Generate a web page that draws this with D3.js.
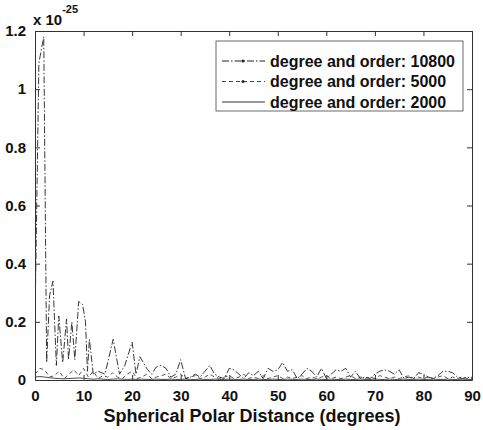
<!DOCTYPE html>
<html>
<head>
<meta charset="utf-8">
<script src="https://cdn.jsdelivr.net/npm/d3@7"></script>
<style>
  body { margin: 0; background: #fff; }
  text { font-family: "Liberation Sans", Arial, sans-serif; font-weight: bold; fill: #111; }
</style>
</head>
<body>
<div id="chart"></div>
<script>
// spherical polar distance (degrees) for each series
var deg10800 = [0, 0.8, 1.8, 2.4, 3.0, 3.7, 4.4, 4.9, 5.7, 6.5, 6.9, 7.6, 8.2, 9.0, 9.8, 10.4, 10.8, 11.2,
                12.0, 13.0, 14.4, 16.1, 17.4, 18.5, 20.0, 20.8, 21.6, 23.0].concat(d3.range(24, 91));
var degSample = d3.range(0, 91);

// values (x 1e-25)
var val10800 = [0.20, 1.09, 1.18, 0.06, 0.29, 0.34, 0.05, 0.22, 0.06, 0.21, 0.07, 0.20, 0.07, 0.27, 0.26, 0.20, 0.03, 0.14,
                0.02, 0.03, 0.02, 0.14, 0.02, 0.05, 0.13, 0.02, 0.08, 0.04,
                0.020, 0.045, 0.050, 0.040, 0.010, 0.020, 0.070, 0.005, 0.010, 0.020,
                0.010, 0.030, 0.050, 0.020, 0.010, 0.005, 0.040, 0.035, 0.020, 0.005,
                0.025, 0.015, 0.030, 0.005, 0.040, 0.030, 0.035, 0.060, 0.030, 0.035,
                0.005, 0.020, 0.040, 0.030, 0.010, 0.040, 0.005, 0.020, 0.035, 0.030,
                0.040, 0.010, 0.030, 0.005, 0.010, 0.005, 0.020, 0.030, 0.035, 0.030,
                0.020, 0.035, 0.005, 0.010, 0.005, 0.025, 0.020, 0.010, 0.005, 0.015,
                0.030, 0.030, 0.025, 0.010, 0.005, 0.010, 0.005];
var val5000 = [0.020, 0.040, 0.035, 0.010, 0.015, 0.030, 0.005, 0.020, 0.035, 0.015,
               0.040, 0.010, 0.030, 0.005, 0.015, 0.010, 0.025, 0.010, 0.005, 0.020,
               0.030, 0.005, 0.010, 0.020, 0.005, 0.010, 0.015, 0.020, 0.005, 0.010,
               0.020, 0.005, 0.010, 0.015, 0.005, 0.010, 0.020, 0.010, 0.005, 0.010,
               0.015, 0.005, 0.010, 0.020, 0.005, 0.010, 0.005, 0.015, 0.005, 0.010,
               0.015, 0.005, 0.010, 0.005, 0.010, 0.015, 0.005, 0.010, 0.005, 0.010,
               0.015, 0.005, 0.010, 0.005, 0.010, 0.015, 0.005, 0.010, 0.005, 0.010,
               0.005, 0.015, 0.010, 0.005, 0.010, 0.005, 0.010, 0.015, 0.005, 0.010,
               0.005, 0.010, 0.005, 0.010, 0.015, 0.005, 0.010, 0.005, 0.010, 0.005,
               0.010];
var val2000 = [0.010, 0.012, 0.010, 0.008, 0.006, 0.005, 0.004, 0.005, 0.006, 0.007,
               0.006, 0.004, 0.003, 0.004, 0.003, 0.002, 0.003, 0.004, 0.003, 0.002,
               0.003, 0.002, 0.003, 0.002, 0.002, 0.003, 0.002, 0.002, 0.003, 0.002,
               0.002, 0.003, 0.002, 0.002, 0.003, 0.002, 0.002, 0.003, 0.002, 0.002,
               0.003, 0.002, 0.002, 0.003, 0.002, 0.002, 0.003, 0.002, 0.002, 0.003,
               0.002, 0.002, 0.003, 0.002, 0.002, 0.003, 0.002, 0.002, 0.003, 0.002,
               0.002, 0.003, 0.002, 0.002, 0.003, 0.002, 0.002, 0.003, 0.002, 0.002,
               0.003, 0.002, 0.002, 0.003, 0.002, 0.002, 0.003, 0.002, 0.002, 0.003,
               0.002, 0.002, 0.003, 0.002, 0.002, 0.003, 0.002, 0.002, 0.003, 0.002,
               0.002];

var labels = ["degree and order: 10800", "degree and order: 5000", "degree and order: 2000"];
var xTicks = [0, 10, 20, 30, 40, 50, 60, 70, 80, 90];
var yTicks = [0, 0.2, 0.4, 0.6, 0.8, 1, 1.2];

var width = 483, height = 430;
var margin = {left: 35, right: 11, top: 31, bottom: 50};

var svg = d3.select("#chart").append("svg")
    .attr("width", width)
    .attr("height", height);

var x = d3.scaleLinear().domain([0, 90]).range([margin.left, width - margin.right]);
var y = d3.scaleLinear().domain([0, 1.2]).range([height - margin.bottom, margin.top]);

svg.append("clipPath").attr("id", "plotclip")
    .append("rect")
    .attr("x", x(0)).attr("y", y(1.2))
    .attr("width", x(90) - x(0)).attr("height", y(0) - y(1.2));

var series = [
    {xs: deg10800, ys: val10800, color: "#222", dash: "7,2,1.5,2", width: 0.9},
    {xs: degSample, ys: val5000, color: "#444", dash: "4,3", width: 0.9},
    {xs: degSample, ys: val2000, color: "#333", dash: null, width: 0.9}
];

var line = d3.line()
    .x(function(d) { return x(d[0]); })
    .y(function(d) { return y(d[1]); });

var plot = svg.append("g").attr("clip-path", "url(#plotclip)");
series.slice().reverse().forEach(function(s) {
    var pts = s.xs.map(function(v, i) { return [v, s.ys[i]]; });
    plot.append("path")
        .datum(pts)
        .attr("d", line)
        .attr("fill", "none")
        .attr("stroke", s.color)
        .attr("stroke-width", s.width)
        .attr("stroke-dasharray", s.dash);
});

// axes (box on, ticks inside)
var tickLen = 5;
var bottomAxis = d3.axisBottom(x).tickValues(xTicks).tickSizeInner(-tickLen).tickSizeOuter(0).tickPadding(10);
var leftAxis = d3.axisLeft(y).tickValues(yTicks).tickSizeInner(-tickLen).tickSizeOuter(0).tickPadding(9)
    .tickFormat(function(d) { return d3.format("")(d); });
var topAxis = d3.axisTop(x).tickValues(xTicks).tickSizeInner(-tickLen).tickSizeOuter(0).tickFormat("");
var rightAxis = d3.axisRight(y).tickValues(yTicks).tickSizeInner(-tickLen).tickSizeOuter(0).tickFormat("");

function styleAxis(g) {
    g.select(".domain").attr("stroke", "#333").attr("stroke-width", 1);
    g.selectAll(".tick line").attr("stroke", "#333");
    g.selectAll(".tick text").style("font-size", "15px").style("font-weight", "bold")
        .style("font-family", "'Liberation Sans', Arial, sans-serif").attr("fill", "#111");
}

svg.append("g").attr("transform", "translate(0," + y(0) + ")").call(bottomAxis).call(styleAxis);
svg.append("g").attr("transform", "translate(" + x(0) + ",0)").call(leftAxis).call(styleAxis);
svg.append("g").attr("transform", "translate(0," + y(1.2) + ")").call(topAxis).call(styleAxis);
svg.append("g").attr("transform", "translate(" + x(90) + ",0)").call(rightAxis).call(styleAxis);

// exponent label
var expo = svg.append("text").attr("x", 33).attr("y", 25).style("font-size", "15px");
expo.append("tspan").text("x 10");
expo.append("tspan").attr("dy", -12).style("font-size", "11px").text("-25");

// x label
svg.append("text")
    .attr("x", 252)
    .attr("y", 422)
    .attr("text-anchor", "middle")
    .style("font-size", "18px")
    .text("Spherical Polar Distance (degrees)");

// legend
var legend = svg.append("g");
legend.append("rect")
    .attr("x", 216).attr("y", 41)
    .attr("width", 247).attr("height", 70)
    .attr("fill", "#fff").attr("stroke", "#444").attr("stroke-width", 0.8);

var legendRows = legend.selectAll("g.row").data(series).enter().append("g")
    .attr("transform", function(d, i) { return "translate(0," + (61 + i * 20.5) + ")"; });
legendRows.append("line")
    .attr("x1", 222).attr("x2", 265).attr("y1", 0).attr("y2", 0)
    .attr("stroke", function(d) { return d.color; })
    .attr("stroke-width", 1)
    .attr("stroke-dasharray", function(d) { return d.dash; });
legendRows.filter(function(d, i) { return i < 2; }).append("circle")
    .attr("cx", 243).attr("cy", 0).attr("r", 1.5).attr("fill", "#222");
legendRows.append("text")
    .attr("x", 270).attr("y", 5.5)
    .style("font-size", "16px")
    .text(function(d, i) { return labels[i]; });
</script>
</body>
</html>
